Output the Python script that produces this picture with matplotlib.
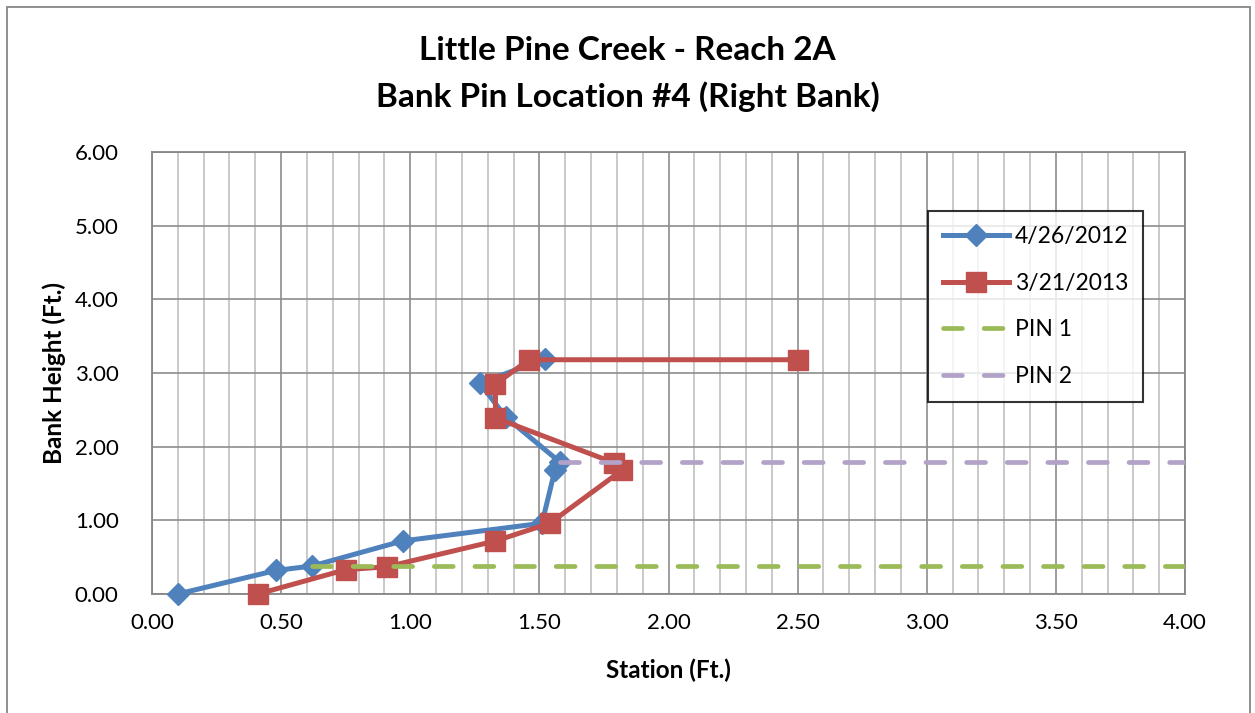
import numpy as np
import matplotlib
matplotlib.use("Agg")
import matplotlib.pyplot as plt
from matplotlib.patches import Rectangle

# bank profile surveys (station, height)
station_2012 = [0.10, 0.48, 0.62, 0.97, 1.51, 1.56, 1.58, 1.37, 1.27, 1.52]
height_2012 = [0.00, 0.32, 0.38, 0.72, 0.96, 1.68, 1.79, 2.40, 2.86, 3.19]

station_2013 = [0.41, 0.75, 0.91, 1.33, 1.54, 1.82, 1.79, 1.33, 1.33, 1.46, 2.50]
height_2013 = [0.00, 0.33, 0.37, 0.72, 0.96, 1.68, 1.78, 2.39, 2.85, 3.18, 3.18]

# pin elevations, drawn from the pin out to the edge of the plot
pin1_x = [0.62, 4.00]
pin1_y = [0.38, 0.38]
pin2_x = [1.58, 4.00]
pin2_y = [1.79, 1.79]

x_ticks = [0.0, 0.5, 1.0, 1.5, 2.0, 2.5, 3.0, 3.5, 4.0]
y_ticks = [0, 1, 2, 3, 4, 5, 6]

plt.rcParams["font.family"] = ["Lato", "DejaVu Sans"]

W, H = 1255, 713
fig = plt.figure(figsize=(W / 100, H / 100), dpi=100)
fig.patches.append(Rectangle((7 / W, -0.05), (1250 - 7) / W, 1.05 - 7 / H,
                             transform=fig.transFigure, fill=False,
                             edgecolor="#868686", linewidth=1.3))

ax = fig.add_axes([152 / W, 1 - 594 / H, (1185 - 152) / W, (594 - 152) / H])

ax.set_xlim(0, 4)
ax.set_ylim(0, 6)
ax.set_xticks(x_ticks)
ax.set_yticks(y_ticks)
ax.set_xticks(np.arange(0, 4.001, 0.1), minor=True)
ax.set_xticklabels([f"{v:.2f}" for v in x_ticks])
ax.set_yticklabels([f"{v:.2f}" for v in y_ticks])
ax.tick_params(which="both", length=0, labelsize=16, colors="black")
ax.tick_params(axis="x", pad=14)
ax.tick_params(axis="y", pad=24)
ax.grid(which="minor", axis="x", color="#c0c0c0", linewidth=1.2)
ax.grid(which="major", color="#8c8c8c", linewidth=1.2)
ax.set_axisbelow(True)
for s in ax.spines.values():
    s.set_color("#868686")
    s.set_linewidth(1.3)

lw = 5.0 * 72 / 100
ax.plot(station_2012, height_2012, color="#4f81bd", linewidth=lw, marker="D",
        markersize=11, label="4/26/2012", clip_on=False, zorder=3)
ax.plot(station_2013, height_2013, color="#c0504d", linewidth=lw, marker="s",
        markersize=14.5, label="3/21/2013", clip_on=False, zorder=4)
ax.plot(pin1_x, pin1_y, color="#9bbb59", linewidth=3.4, linestyle=(0, (4.0, 4.6)),
        dash_capstyle="round", label="PIN 1", zorder=5)
ax.plot(pin2_x, pin2_y, color="#b3a2c7", linewidth=3.4, linestyle=(0, (4.0, 4.6)),
        dash_capstyle="round", label="PIN 2", zorder=5)

ax.set_xlabel("Station (Ft.)", fontsize=17.5, fontweight="bold", labelpad=18)
ax.set_ylabel("Bank Height (Ft.)", fontsize=17.5, fontweight="bold", labelpad=6)

fig.text(0.5, 1 - 50 / H, "Little Pine Creek - Reach 2A", ha="center", va="center",
         fontsize=24, fontweight="bold")
fig.text(0.5, 1 - 97 / H, "Bank Pin Location #4 (Right Bank)", ha="center",
         va="center", fontsize=24, fontweight="bold")

leg = ax.legend(loc="upper left", bbox_to_anchor=(928 / W, 1 - 211 / H),
                bbox_transform=fig.transFigure, fontsize=16.5, frameon=True,
                fancybox=False, edgecolor="black", handlelength=2.9,
                labelspacing=1.12, borderpad=0.65, handletextpad=0.25,
                borderaxespad=0)
leg.get_frame().set_linewidth(1.5)
leg.set_zorder(10)

fig.savefig("out.png", dpi=100)
